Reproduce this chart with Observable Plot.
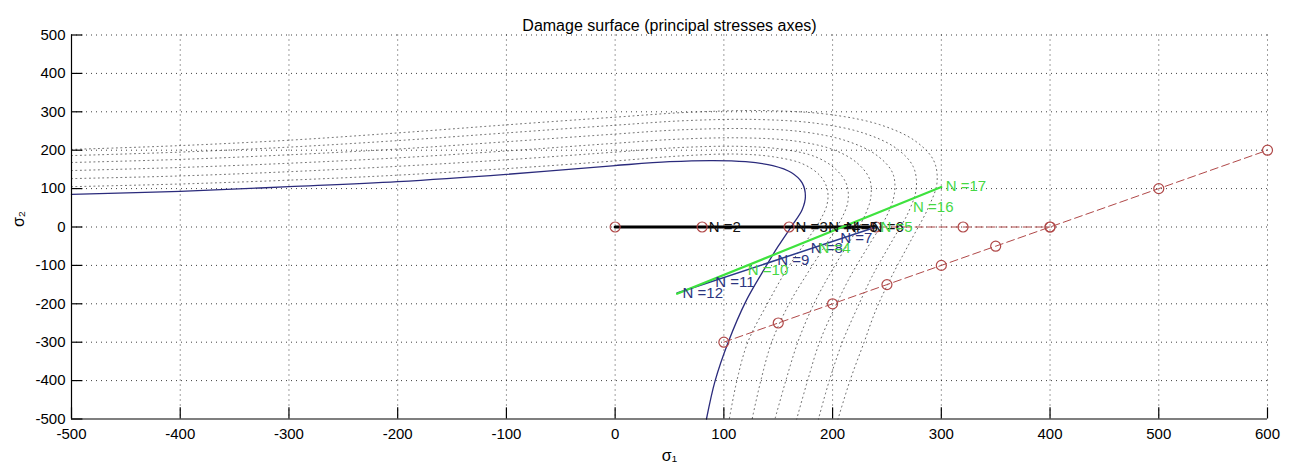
<!DOCTYPE html>
<html>
<head>
<meta charset="utf-8">
<script src="https://cdn.jsdelivr.net/npm/d3@7"></script>
<script src="https://cdn.jsdelivr.net/npm/@observablehq/plot@0.6"></script>
<style>
  html, body { margin: 0; padding: 0; background: #fff; }
  #chart svg { display: block; }
</style>
</head>
<body>
<div id="chart"></div>
<script>
// Axis ticks
const xTicks = [-500, -400, -300, -200, -100, 0, 100, 200, 300, 400, 500, 600];
const yTicks = [-500, -400, -300, -200, -100, 0, 100, 200, 300, 400, 500];

// Initial damage surface (solid)
const surfaceX = [-500, -400, -300, -200, -100, 0, 50, 90, 120, 145, 162, 172, 175, 172, 163, 150, 135, 120, 104, 92, 84];
const surfaceY = [85, 93, 105, 118, 137, 160, 170, 173, 170, 160, 142, 115, 80, 45, 5, -50, -120, -195, -300, -400, -500];

// Evolved damage surfaces (dotted), innermost to outermost
const evolvedX = [
  [-500, -400, -300, -200, -100, 0, 60, 110, 145, 172, 188, 195, 195, 188, 175, 158, 140, 122, 112, 105],
  [-500, -400, -300, -200, -100, 0, 60, 115, 155, 185, 203, 213, 214, 207, 194, 177, 160, 144, 134, 126],
  [-500, -400, -300, -200, -100, 0, 60, 120, 165, 200, 222, 234, 235, 228, 214, 197, 182, 168, 157, 147],
  [-500, -400, -300, -200, -100, 0, 60, 125, 175, 213, 240, 255, 257, 250, 235, 217, 202, 188, 177, 167],
  [-500, -400, -300, -200, -100, 0, 65, 130, 185, 228, 258, 274, 277, 270, 255, 237, 222, 209, 197, 187],
  [-500, -400, -300, -200, -100, 0, 70, 140, 200, 245, 276, 293, 296, 288, 273, 255, 240, 229, 216, 205]
];
const evolvedY = [
  [105, 112, 122, 135, 152, 172, 185, 190, 183, 165, 135, 100, 60, 15, -40, -110, -200, -300, -400, -500],
  [126, 133, 144, 158, 175, 195, 207, 210, 202, 182, 150, 110, 65, 15, -45, -120, -200, -300, -400, -500],
  [147, 155, 166, 180, 198, 218, 229, 232, 224, 202, 168, 125, 75, 20, -45, -125, -205, -300, -400, -500],
  [168, 176, 188, 203, 222, 242, 253, 256, 247, 224, 188, 142, 90, 30, -40, -125, -210, -300, -400, -500],
  [186, 195, 208, 225, 245, 265, 277, 280, 270, 245, 206, 158, 102, 40, -35, -125, -215, -300, -400, -500],
  [202, 212, 226, 245, 266, 286, 299, 303, 292, 265, 224, 173, 115, 50, -30, -125, -215, -300, -400, -500]
];

// Load paths (red dashed, circle markers)
const uniaxialX = [0, 80, 160, 240, 320, 400];
const uniaxialY = [0, 0, 0, 0, 0, 0];
const biaxialX = [100, 150, 200, 250, 300, 350, 400, 500, 600];
const biaxialY = [-300, -250, -200, -150, -100, -50, 0, 100, 200];

// Stress histories
const blackPathX = [0, 240];
const blackPathY = [0, 0];
const bluePathX = [240, 57];
const bluePathY = [0, -172];
const greenPathX = [57, 300];
const greenPathY = [-174, 104];

// Step labels
const blackLabels = ["N =2", "N =3", "N =4", "N =5", "N =6"];
const blackLabelX = [86, 166, 196, 212, 236];
const blackLabelY = [0, 0, 0, 0, 0];
const blueLabels = ["N =7", "N =8", "N =9", "N =11", "N =12"];
const blueLabelX = [207, 180, 149, 92, 62];
const blueLabelY = [-30, -56, -87, -145, -173];
const greenLabels = ["N =5", "N =4", "N =10", "N =16", "N =17"];
const greenLabelX = [244, 187, 122, 274, 304];
const greenLabelY = [0, -56, -113, 51, 106];

const zip = (xs, ys, extra = {}) => xs.map((x, i) => ({x, y: ys[i], ...extra}));
const labelled = (xs, ys, texts) => zip(xs, ys).map((d, i) => ({...d, t: texts[i]}));

const evolved = evolvedX.flatMap((xs, k) => zip(xs, evolvedY[k], {k}));
const surface = zip(surfaceX, surfaceY);
const markers = [...zip(uniaxialX, uniaxialY), ...zip(biaxialX, biaxialY)];

const font = "'Liberation Sans', Arial, Helvetica, sans-serif";
const gridStyle = {stroke: "#000", strokeWidth: 1, strokeDasharray: "1,4", strokeOpacity: 0.75};
const fmt = d => `${d}`;

const chart = Plot.plot({
  width: 1296,
  height: 473,
  marginLeft: 71,
  marginRight: 29,
  marginTop: 34.5,
  marginBottom: 54.5,
  x: {domain: [-500, 600], axis: null},
  y: {domain: [-500, 500], axis: null},
  style: {fontFamily: font, fontSize: "15px", background: "#fff", color: "#000"},
  marks: [
    // dotted grid
    Plot.ruleX(xTicks.slice(1), {...gridStyle}),
    Plot.ruleY(yTicks.slice(1), {...gridStyle}),
    // evolved surfaces
    Plot.line(evolved, {x: "x", y: "y", z: "k", curve: "catmull-rom", stroke: "#333", strokeWidth: 1, strokeDasharray: "1,3.5", strokeOpacity: 0.75}),
    // initial surface
    Plot.line(surface, {x: "x", y: "y", curve: "catmull-rom", stroke: "#2b2b7c", strokeWidth: 1.3}),
    // load paths
    Plot.line(zip(uniaxialX, uniaxialY), {x: "x", y: "y", stroke: "#b04848", strokeWidth: 1, strokeDasharray: "8,4"}),
    Plot.line(zip(biaxialX, biaxialY), {x: "x", y: "y", stroke: "#b04848", strokeWidth: 1, strokeDasharray: "8,4"}),
    // stress histories
    Plot.line(zip(blackPathX, blackPathY), {x: "x", y: "y", stroke: "#000", strokeWidth: 3}),
    Plot.line(zip(bluePathX, bluePathY), {x: "x", y: "y", stroke: "#2b3a8c", strokeWidth: 1.5}),
    Plot.line(zip(greenPathX, greenPathY), {x: "x", y: "y", stroke: "#3ee23e", strokeWidth: 2.2}),
    Plot.dot(markers, {x: "x", y: "y", r: 5, stroke: "#b04848", fill: "none", strokeWidth: 1.2}),
    // step labels
    Plot.text(labelled(blackLabelX, blackLabelY, blackLabels), {x: "x", y: "y", text: "t", textAnchor: "start", fill: "#111", fontSize: 15}),
    Plot.text(labelled(blueLabelX, blueLabelY, blueLabels), {x: "x", y: "y", text: "t", textAnchor: "start", fill: "#2b3580", fontSize: 15}),
    Plot.text(labelled(greenLabelX, greenLabelY, greenLabels), {x: "x", y: "y", text: "t", textAnchor: "start", fill: "#45d845", fontSize: 15}),
    // axes: left and bottom lines with inward ticks
    Plot.ruleX([-500], {stroke: "#000", strokeWidth: 1.2}),
    Plot.ruleY([-500], {stroke: "#000", strokeWidth: 1.2}),
    Plot.ruleX(xTicks, {y1: -500, y2: -471, stroke: "#000", strokeWidth: 1.2}),
    Plot.ruleY(yTicks, {x1: -500, x2: -489.5, stroke: "#000", strokeWidth: 1.2}),
    Plot.axisX(xTicks, {anchor: "bottom", tickSize: 0, tickPadding: 9, tickFormat: fmt, label: null, fontSize: 15}),
    Plot.axisY(yTicks, {anchor: "left", tickSize: 0, tickPadding: 6, tickFormat: fmt, label: null, fontSize: 15}),
    // titles
    Plot.text(["Damage surface (principal stresses axes)"], {frameAnchor: "top", dy: -15.8, fontSize: 16, fill: "#000"}),
    Plot.text(["σ₁"], {frameAnchor: "bottom", dy: 42, fontSize: 16, fill: "#000"}),
    Plot.text(["σ₂"], {frameAnchor: "left", dx: -53, rotate: -90, fontSize: 16, fill: "#000"})
  ]
});

document.getElementById("chart").append(chart);
</script>
</body>
</html>
